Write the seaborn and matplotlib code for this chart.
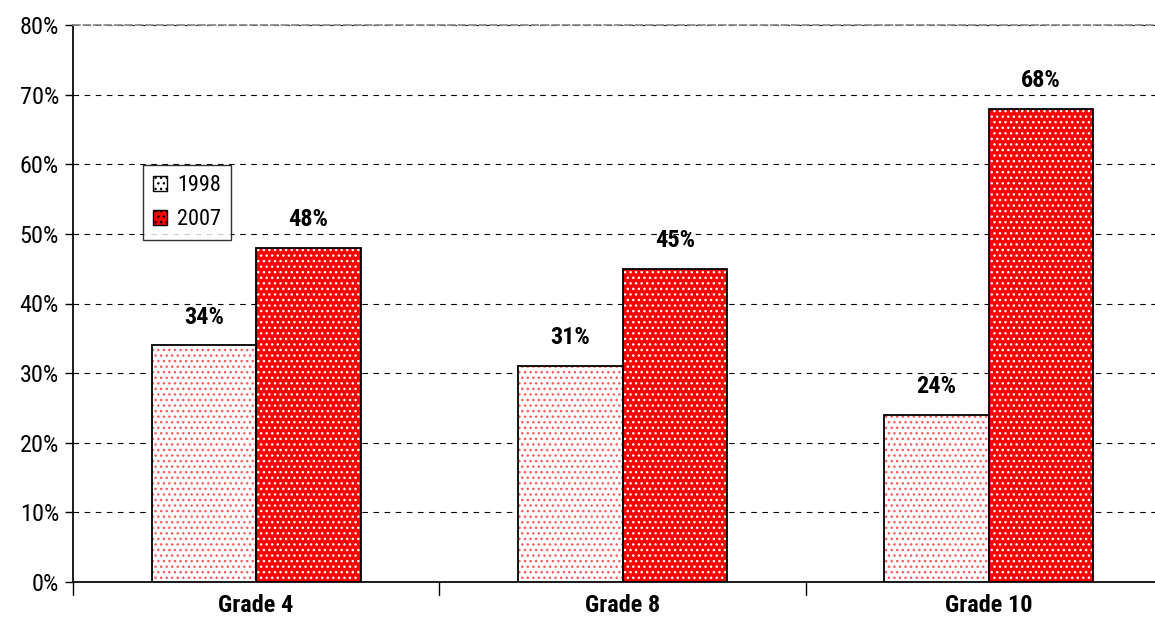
import matplotlib
matplotlib.use("Agg")
import matplotlib.pyplot as plt
from matplotlib import font_manager as fm
import seaborn as sns
import pandas as pd
from matplotlib.patches import Rectangle, Patch
from matplotlib.ticker import PercentFormatter

grades = ["Grade 4", "Grade 8", "Grade 10"]
years = ["1998", "2007"]
vals_1998 = [34, 31, 24]
vals_2007 = [48, 45, 68]

df = pd.DataFrame({
    "grade": grades * 2,
    "year": [years[0]] * 3 + [years[1]] * 3,
    "value": vals_1998 + vals_2007,
})

sns.set_theme(style="white")
available = {f.name for f in fm.fontManager.ttflist}
preferred = ['Liberation Sans Narrow', 'Arial Narrow', 'Roboto Condensed', 'Asap Condensed']
fams = [f for f in preferred if f in available] + ['Liberation Sans', 'DejaVu Sans']
plt.rcParams['font.family'] = fams
plt.rcParams['text.color'] = 'black'

fig = plt.figure(figsize=(11.55, 6.31), dpi=100)
ax = fig.add_axes([73/1155, 49/631, (1172-73)/1155, (582-25)/631])

face = {"1998": "white", "2007": "#ff0000"}
hatchc = {"1998": "#ff5a5a", "2007": "white"}

sns.barplot(data=df, x="grade", y="value", hue="year", order=grades, hue_order=years,
            palette=face, saturation=1, width=0.57, gap=0, ax=ax, legend=False, zorder=3)

for cont, yr in zip(ax.containers, years):
    for p in cont.patches:
        p.set_hatch("...")
        p.set_edgecolor(hatchc[yr])
        p.set_linewidth(0)
        outline = Rectangle(p.get_xy(), p.get_width(), p.get_height(), fill=False,
                            edgecolor="black", linewidth=1.3, zorder=4)
        ax.add_patch(outline)
    ax.bar_label(cont, labels=[f"{int(v)}%" for v in cont.datavalues], padding=12,
                 fontsize=17.5, fontweight="bold", color="black")

ax.set_ylim(0, 80)
ax.set_xlim(-0.5, 2.5)
ax.set_yticks(range(0, 81, 10))
ax.yaxis.set_major_formatter(PercentFormatter(decimals=0))
ax.grid(axis="y", color="black", linestyle=(0, (5, 5)), linewidth=0.8, zorder=0)
ax.set_axisbelow(True)
ax.spines["right"].set_visible(False)
ax.spines["top"].set_color("#888888")
ax.spines["top"].set_linestyle((0, (4, 2)))
ax.spines["left"].set_color("black")
ax.spines["bottom"].set_color("black")
ax.set_xlabel("")
ax.set_ylabel("")
ax.tick_params(axis="y", labelsize=17.5, length=6, width=1, direction="out", left=True, pad=4,
               colors="black", labelcolor="black")
ax.set_xticks([0, 1, 2])
ax.set_xticklabels(grades, fontsize=17.5, fontweight="bold", color="black")
ax.tick_params(axis="x", length=0, pad=9)
for xb in [-0.5, 0.5, 1.5]:
    ax.plot([xb, xb], [0, -1.8], color="black", lw=1, clip_on=False)

handles = [Patch(facecolor=face[y], edgecolor="black", hatch="...", label=y) for y in years]
leg = ax.legend(handles=handles, loc="upper left", bbox_to_anchor=((143-73)/1099, 1-(165-25)/557),
                frameon=True, fancybox=False, edgecolor="black", fontsize=16,
                handlelength=0.65, handleheight=0.65, handletextpad=0.45, borderpad=0.45,
                labelspacing=0.6, borderaxespad=0)
leg.get_frame().set_linewidth(1)

fig.savefig("out.png", dpi=100)
